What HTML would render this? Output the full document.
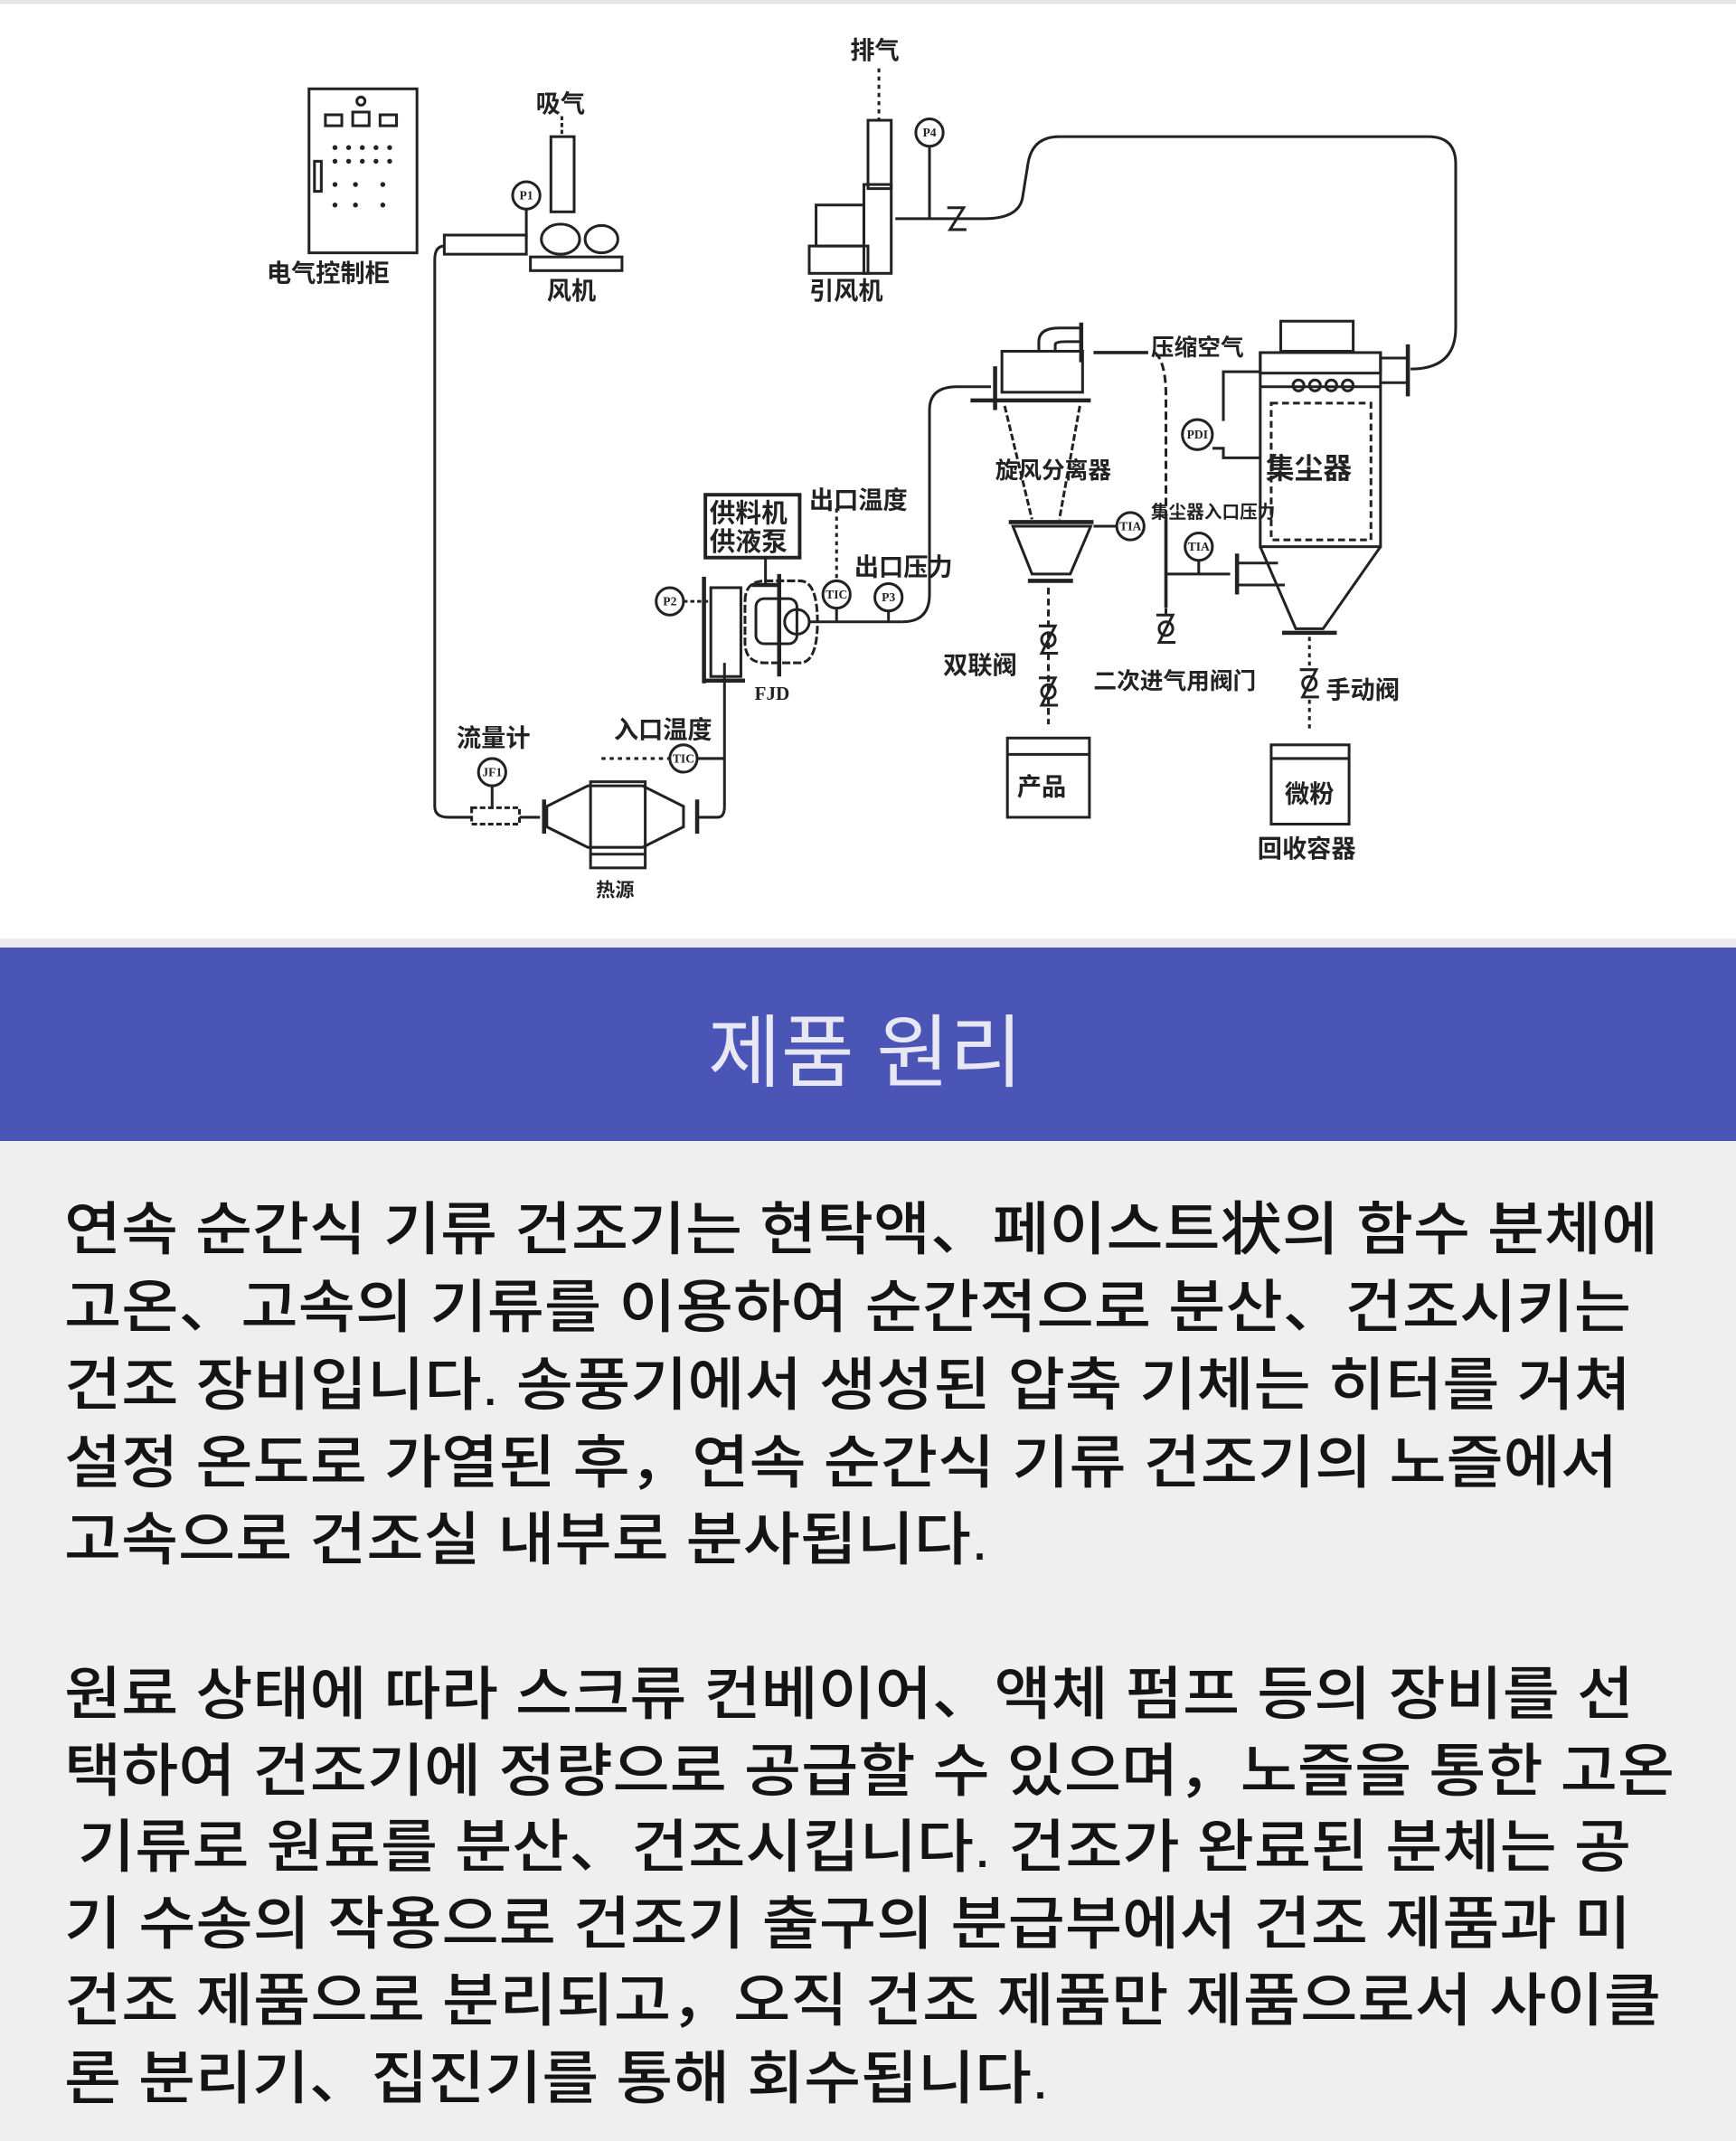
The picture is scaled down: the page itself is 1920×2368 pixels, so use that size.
<!DOCTYPE html>
<html><head><meta charset="utf-8"><style>
html,body{margin:0;padding:0;}
body{width:1920px;height:2368px;position:relative;background:#fff;overflow:hidden;font-family:"Liberation Sans","Noto Sans CJK SC",sans-serif;}
#diag{position:absolute;left:0;top:0;}
#band{position:absolute;left:0;top:1048px;width:1920px;height:214px;background:#4a55b5;}
#strip{position:absolute;left:0;top:1038px;width:1920px;height:10px;background:#ebebef;}
#body{position:absolute;left:0;top:1262px;width:1920px;height:1106px;background:#efeff0;}
#txt{position:absolute;left:0;top:0;}
</style></head><body>
<svg id="diag" width="1920" height="1043" viewBox="0 0 1270 690" xmlns="http://www.w3.org/2000/svg">
<rect x="0" y="0" width="1270" height="3" fill="#e6e6e6"/>
<g fill="none" stroke="#222" stroke-width="2">
<rect x="226" y="65" width="79" height="120"/>
<circle cx="264" cy="74" r="3"/>
<rect x="238" y="84" width="12" height="8"/><rect x="258" y="82" width="12" height="10"/><rect x="278" y="84" width="12" height="8"/>
<rect x="230" y="118" width="5" height="22"/>
<rect x="403" y="100" width="17" height="55"/>
<line x1="411" y1="85" x2="411" y2="100" stroke-dasharray="3,2"/>
<circle cx="385" cy="143" r="10"/>
<line x1="385" y1="153" x2="385" y2="175"/>
<rect x="325" y="172" width="60" height="14"/>
<ellipse cx="410" cy="175" rx="14" ry="11"/><ellipse cx="440" cy="175" rx="12" ry="10"/>
<rect x="388" y="188" width="67" height="10"/>
<path d="M325 180 Q318 180 318 190 L318 590 Q318 598 328 598 L345 598"/>
<circle cx="360" cy="565" r="10"/>
<line x1="360" y1="575" x2="360" y2="592"/>
<rect x="345" y="591" width="35" height="12" stroke-dasharray="4,2"/>
<line x1="380" y1="598" x2="395" y2="598"/>
<line x1="398" y1="585" x2="398" y2="610" stroke-width="3"/>
<path d="M400 590 L430 575 L470 575 L500 590 L500 605 L470 620 L430 620 L400 605 Z"/>
<rect x="432" y="572" width="40" height="63"/>
<line x1="432" y1="625" x2="472" y2="625"/>
<line x1="510" y1="585" x2="510" y2="610" stroke-width="3"/>
<path d="M510 598 L525 598 Q530 598 530 590 L530 485"/>
<line x1="440" y1="555" x2="490" y2="555" stroke-dasharray="3,3"/>
<circle cx="500" cy="555" r="10"/>
<line x1="510" y1="555" x2="530" y2="555"/>
<line x1="515" y1="422" x2="515" y2="500" stroke-width="3"/>
<rect x="520" y="430" width="22" height="65"/>
<line x1="515" y1="498" x2="545" y2="498" stroke-width="3"/>
<circle cx="490" cy="440" r="10"/>
<line x1="500" y1="440" x2="520" y2="440" stroke-dasharray="3,2"/>
<rect x="516" y="362" width="69" height="46" stroke-width="2.6"/>
<line x1="560" y1="408" x2="560" y2="428"/>
<line x1="550" y1="428" x2="570" y2="428" stroke-width="3"/>
<path d="M545 440 Q545 425 560 425 L585 425 Q598 425 598 455 Q598 485 585 485 L560 485 Q545 485 545 470 Z" stroke-dasharray="6,2"/>
<rect x="553" y="438" width="30" height="33" rx="6"/>
<circle cx="583" cy="455" r="9"/>
<line x1="570" y1="420" x2="570" y2="495" stroke-width="3"/>
<line x1="592" y1="455" x2="660" y2="455"/>
<circle cx="612" cy="435" r="10"/><line x1="612" y1="445" x2="612" y2="455"/>
<line x1="612" y1="372" x2="612" y2="425" stroke-dasharray="3,3"/>
<circle cx="650" cy="437" r="10"/><line x1="650" y1="447" x2="650" y2="455"/>
<path d="M660 455 Q680 455 680 435 L680 300 Q680 283 700 283 L725 283"/>
<line x1="728" y1="268" x2="728" y2="300" stroke-width="3"/>
<rect x="733" y="257" width="59" height="30"/>
<line x1="710" y1="293" x2="798" y2="293" stroke-width="3"/>
<path d="M760 257 L760 250 Q760 240 775 240 L790 240"/>
<path d="M772 257 L772 252 Q772 250 780 250 L790 250"/>
<line x1="791" y1="236" x2="791" y2="265" stroke-width="3"/>
<line x1="735" y1="297" x2="755" y2="380" stroke-dasharray="5,2"/>
<line x1="790" y1="297" x2="775" y2="380" stroke-dasharray="5,2"/>
<line x1="738" y1="382" x2="800" y2="382" stroke-width="3"/>
<path d="M741 385 L798 385 L783 420 L755 420 Z"/>
<line x1="752" y1="425" x2="785" y2="425" stroke-width="3"/>
<line x1="800" y1="385" x2="817" y2="385"/>
<circle cx="827" cy="385" r="10"/>
<line x1="767" y1="430" x2="767" y2="530" stroke-dasharray="5,3"/>
<path d="M760 458 L772 458 L762 478 L774 478"/><circle cx="767" cy="468" r="5"/>
<path d="M760 496 L772 496 L762 516 L774 516"/><circle cx="767" cy="506" r="5"/>
<rect x="737" y="540" width="60" height="58"/><line x1="737" y1="552" x2="797" y2="552"/>
<line x1="800" y1="258" x2="840" y2="258" stroke-width="2.4"/>
<path d="M845 258 Q853 265 853 290 L853 450" stroke-dasharray="6,3"/>
<line x1="853" y1="380" x2="853" y2="445" stroke-width="2.4"/>
<path d="M846 450 L858 450 L848 470 L860 470"/><circle cx="853" cy="460" r="5"/>
<line x1="853" y1="420" x2="900" y2="420"/>
<circle cx="877" cy="400" r="10"/><line x1="877" y1="410" x2="877" y2="420"/>
<line x1="905" y1="405" x2="905" y2="435" stroke-width="3"/>
<line x1="905" y1="412" x2="935" y2="412"/><line x1="905" y1="428" x2="940" y2="428"/>
<rect x="937" y="235" width="53" height="22"/>
<rect x="922" y="258" width="88" height="15"/>
<rect x="922" y="258" width="88" height="142"/>
<line x1="922" y1="283" x2="1010" y2="283"/>
<circle cx="950" cy="282" r="4"/><circle cx="962" cy="282" r="4"/><circle cx="974" cy="282" r="4"/><circle cx="986" cy="282" r="4"/>
<rect x="930" y="295" width="73" height="100" stroke-dasharray="5,3"/>
<path d="M922 400 L948 460 L968 460 L1010 400"/>
<line x1="938" y1="463" x2="978" y2="463" stroke-width="3"/>
<path d="M922 272 L895 272 L895 308"/><circle cx="876" cy="318" r="11"/>
<path d="M887 328 L895 328 L895 335 L922 335"/>
<line x1="1010" y1="262" x2="1030" y2="262"/><line x1="1010" y1="280" x2="1030" y2="280"/>
<line x1="1030" y1="252" x2="1030" y2="290" stroke-width="3"/>
<path d="M1032 270 Q1065 270 1065 240 L1065 120 Q1065 100 1045 100 L775 100 Q755 100 752 120 L748 145 Q745 160 720 160 L655 160"/>
<line x1="958" y1="466" x2="958" y2="490" stroke-dasharray="3,3"/>
<path d="M951 490 L963 490 L953 510 L965 510"/><circle cx="958" cy="500" r="5"/>
<line x1="958" y1="512" x2="958" y2="535" stroke-dasharray="3,3"/>
<rect x="930" y="545" width="57" height="58"/><line x1="930" y1="555" x2="987" y2="555"/>
<line x1="643" y1="50" x2="643" y2="88" stroke-dasharray="3,3"/>
<rect x="635" y="88" width="17" height="50"/>
<rect x="597" y="150" width="35" height="30"/>
<rect x="592" y="180" width="43" height="20"/>
<rect x="632" y="135" width="20" height="65"/>
<circle cx="680" cy="97" r="10"/><line x1="680" y1="107" x2="680" y2="160"/>
<path d="M693 152 L705 152 L695 168 L707 168"/>
</g>
<g fill="#222" stroke="none">
<circle cx="245" cy="108" r="1.8"/><circle cx="255" cy="108" r="1.8"/><circle cx="265" cy="108" r="1.8"/><circle cx="275" cy="108" r="1.8"/><circle cx="285" cy="108" r="1.8"/>
<circle cx="245" cy="118" r="1.8"/><circle cx="255" cy="118" r="1.8"/><circle cx="265" cy="118" r="1.8"/><circle cx="275" cy="118" r="1.8"/><circle cx="285" cy="118" r="1.8"/>
<circle cx="245" cy="135" r="1.8"/><circle cx="260" cy="135" r="1.8"/><circle cx="280" cy="135" r="1.8"/>
<circle cx="245" cy="150" r="1.8"/><circle cx="260" cy="150" r="1.8"/><circle cx="280" cy="150" r="1.8"/>
</g>
<g font-family="'Liberation Sans','Noto Sans CJK SC',sans-serif" font-size="18" fill="#222" font-weight="bold">
<text x="195" y="206">电气控制柜</text>
<text x="392" y="82">吸气</text>
<text x="400" y="219">风机</text>
<text x="622" y="43">排气</text>
<text x="592" y="219">引风机</text>
<text x="334" y="546">流量计</text>
<text x="449" y="540">入口温度</text>
<text x="436" y="656" font-size="14">热源</text>
<text x="519" y="382" font-size="19">供料机</text>
<text x="519" y="403" font-size="19">供液泵</text>
<text x="592" y="372">出口温度</text>
<text x="625" y="421">出口压力</text>
<text x="552" y="512" font-size="14" font-family="'Liberation Serif',serif">FJD</text>
<text x="728" y="350" font-size="17">旋风分离器</text>
<text x="842" y="260" font-size="17">压缩空气</text>
<text x="926" y="350" font-size="21">集尘器</text>
<text x="842" y="379" font-size="13">集尘器入口压力</text>
<text x="690" y="493">双联阀</text>
<text x="800" y="504" font-size="17">二次进气用阀门</text>
<text x="970" y="511">手动阀</text>
<text x="744" y="582">产品</text>
<text x="940" y="587">微粉</text>
<text x="920" y="627">回收容器</text>
<g font-size="9" font-family="'Liberation Serif',serif" text-anchor="middle">
<text x="385" y="146">P1</text><text x="680" y="100">P4</text><text x="490" y="443">P2</text><text x="650" y="440">P3</text>
<text x="612" y="438">TIC</text><text x="500" y="558">TIC</text><text x="360" y="568">JF1</text>
<text x="827" y="388">TIA</text><text x="877" y="403">TIA</text><text x="876" y="321">PDI</text>
</g>
</g>
</svg>
<div id="strip"></div>
<div id="band"></div>
<div id="body"></div>
<svg id="txt" width="1920" height="2368" xmlns="http://www.w3.org/2000/svg">
<text x="957" y="1195" text-anchor="middle" font-family="'Liberation Sans','Noto Sans CJK KR',sans-serif" font-size="88" fill="#e8e8f5">제품 원리</text>
<g font-family="'Liberation Sans','Noto Sans CJK KR',sans-serif" font-size="64" font-weight="500" fill="#141414">
<text x="71" y="1382" textLength="1763" lengthAdjust="spacingAndGlyphs">연속 순간식 기류 건조기는 현탁액、페이스트状의 함수 분체에</text>
<text x="71" y="1468" textLength="1733" lengthAdjust="spacingAndGlyphs">고온、고속의 기류를 이용하여 순간적으로 분산、건조시키는</text>
<text x="71" y="1554" textLength="1733" lengthAdjust="spacingAndGlyphs">건조 장비입니다. 송풍기에서 생성된 압축 기체는 히터를 거쳐</text>
<text x="71" y="1640" textLength="1718" lengthAdjust="spacingAndGlyphs">설정 온도로 가열된 후，연속 순간식 기류 건조기의 노즐에서</text>
<text x="71" y="1725" textLength="1022" lengthAdjust="spacingAndGlyphs">고속으로 건조실 내부로 분사됩니다.</text>
<text x="71" y="1896" textLength="1736" lengthAdjust="spacingAndGlyphs">원료 상태에 따라 스크류 컨베이어、액체 펌프 등의 장비를 선</text>
<text x="71" y="1981" textLength="1781" lengthAdjust="spacingAndGlyphs">택하여 건조기에 정량으로 공급할 수 있으며，노즐을 통한 고온</text>
<text x="86" y="2065" textLength="1718" lengthAdjust="spacingAndGlyphs">기류로 원료를 분산、건조시킵니다. 건조가 완료된 분체는 공</text>
<text x="71" y="2150" textLength="1733" lengthAdjust="spacingAndGlyphs">기 수송의 작용으로 건조기 출구의 분급부에서 건조 제품과 미</text>
<text x="71" y="2235" textLength="1766" lengthAdjust="spacingAndGlyphs">건조 제품으로 분리되고，오직 건조 제품만 제품으로서 사이클</text>
<text x="71" y="2321" textLength="1089" lengthAdjust="spacingAndGlyphs">론 분리기、집진기를 통해 회수됩니다.</text>
</g>
</svg>
</body></html>
